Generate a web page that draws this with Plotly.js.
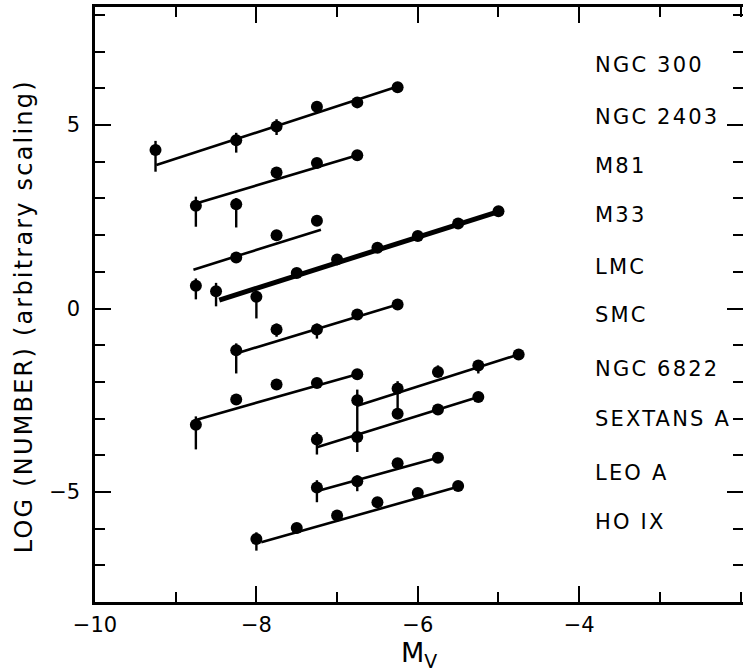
<!DOCTYPE html>
<html>
<head>
<meta charset="utf-8">
<script src="https://cdn.plot.ly/plotly-3.0.1.min.js"></script>
<style>
  html, body { margin: 0; padding: 0; background: #fff; }
  #chart { width: 743px; height: 672px; }
  .annotation-text { letter-spacing: 2.2px; }
</style>
</head>
<body>
<div id="chart"></div>
<script>
// ---- Data (M_V vs log number, arbitrary scaling) ----
const galaxies = ['NGC 300', 'NGC 2403', 'M81', 'M33', 'LMC', 'SMC', 'NGC 6822', 'SEXTANS A', 'LEO A', 'HO IX'];

const ngc300Mv   = [-9.25, -8.25, -7.75, -7.25, -6.75, -6.25];
const ngc300Log  = [4.32, 4.59, 4.96, 5.50, 5.62, 6.03];
const ngc300ErrHi = [0.25, 0.20, 0.20, 0, 0, 0];
const ngc300ErrLo = [0.59, 0.34, 0.23, 0, 0, 0];

const ngc2403Mv   = [-8.75, -8.25, -7.75, -7.25, -6.75];
const ngc2403Log  = [2.80, 2.84, 3.71, 3.97, 4.18];
const ngc2403ErrHi = [0.25, 0.17, 0, 0, 0];
const ngc2403ErrLo = [0.57, 0.63, 0, 0, 0];

const m81Mv   = [-8.75, -8.25, -7.75, -7.25];
const m81Log  = [0.62, 1.39, 2.00, 2.39];
const m81ErrHi = [0.20, 0, 0, 0];
const m81ErrLo = [0.37, 0, 0, 0];

const m33Mv   = [-8.5, -8.0, -7.5, -7.0, -6.5, -6.0, -5.5, -5.0];
const m33Log  = [0.47, 0.32, 0.97, 1.34, 1.66, 1.98, 2.32, 2.65];
const m33ErrHi = [0.23, 0.05, 0, 0, 0, 0, 0, 0];
const m33ErrLo = [0.41, 0.59, 0, 0, 0, 0, 0, 0];

const lmcMv   = [-8.25, -7.75, -7.25, -6.75, -6.25];
const lmcLog  = [-1.14, -0.57, -0.57, -0.16, 0.11];
const lmcErrHi = [0.19, 0.16, 0.16, 0, 0];
const lmcErrLo = [0.63, 0.20, 0.25, 0, 0];

const smcMv   = [-8.75, -8.25, -7.75, -7.25, -6.75];
const smcLog  = [-3.17, -2.48, -2.07, -2.03, -1.79];
const smcErrHi = [0.23, 0, 0, 0, 0];
const smcErrLo = [0.67, 0, 0, 0, 0];

const ngc6822Mv   = [-6.75, -6.25, -5.75, -5.25, -4.75];
const ngc6822Log  = [-2.50, -2.18, -1.73, -1.55, -1.25];
const ngc6822ErrHi = [0.29, 0.20, 0.18, 0.05, 0];
const ngc6822ErrLo = [1.00, 0.69, 0.05, 0.22, 0];

const sexAMv   = [-7.25, -6.75, -6.25, -5.75, -5.25];
const sexALog  = [-3.57, -3.50, -2.87, -2.75, -2.41];
const sexAErrHi = [0.20, 0, 0, 0, 0];
const sexAErrLo = [0.41, 0.41, 0.10, 0, 0];

const leoAMv   = [-7.25, -6.75, -6.25, -5.75];
const leoALog  = [-4.88, -4.71, -4.22, -4.07];
const leoAErrHi = [0.20, 0.16, 0, 0];
const leoAErrLo = [0.40, 0.27, 0, 0];

const hoIXMv   = [-8.0, -7.5, -7.0, -6.5, -6.0, -5.5];
const hoIXLog  = [-6.28, -5.98, -5.64, -5.28, -5.03, -4.84];
const hoIXErrHi = [0.18, 0, 0, 0, 0, 0];
const hoIXErrLo = [0.32, 0, 0, 0, 0, 0];

// fitted lines (end points), one per galaxy in order
const fitMvStart  = [-9.24, -8.75, -8.78, -8.46, -8.23, -8.74, -6.75, -7.25, -7.22, -7.94];
const fitLogStart = [3.91, 2.86, 1.06, 0.23, -1.21, -3.03, -2.65, -3.78, -4.96, -6.37];
const fitMvEnd    = [-6.25, -6.75, -7.20, -4.99, -6.25, -6.75, -4.75, -5.25, -5.75, -5.47];
const fitLogEnd   = [6.05, 4.18, 2.15, 2.65, 0.11, -1.79, -1.25, -2.41, -4.07, -4.84];

// label positions (y in data units) for the galaxy names at right
const labelLog = [6.64, 5.22, 3.88, 2.55, 1.13, -0.18, -1.66, -3.02, -4.47, -5.83];

const xTickVals = [-10, -8, -6, -4];
const yTickVals = [-5, 0, 5];
const yTitle = 'LOG (NUMBER) (arbitrary scaling)';

// ---- Build traces ----
const series = [
  [ngc300Mv, ngc300Log, ngc300ErrHi, ngc300ErrLo],
  [ngc2403Mv, ngc2403Log, ngc2403ErrHi, ngc2403ErrLo],
  [m81Mv, m81Log, m81ErrHi, m81ErrLo],
  [m33Mv, m33Log, m33ErrHi, m33ErrLo],
  [lmcMv, lmcLog, lmcErrHi, lmcErrLo],
  [smcMv, smcLog, smcErrHi, smcErrLo],
  [ngc6822Mv, ngc6822Log, ngc6822ErrHi, ngc6822ErrLo],
  [sexAMv, sexALog, sexAErrHi, sexAErrLo],
  [leoAMv, leoALog, leoAErrHi, leoAErrLo],
  [hoIXMv, hoIXLog, hoIXErrHi, hoIXErrLo]
];

const traces = [];
galaxies.forEach((name, i) => {
  traces.push({
    x: [fitMvStart[i], fitMvEnd[i]],
    y: [fitLogStart[i], fitLogEnd[i]],
    mode: 'lines',
    line: { color: '#000', width: name === 'M33' ? 5 : 2.6 },
    hoverinfo: 'skip',
    showlegend: false
  });
});
galaxies.forEach((name, i) => {
  const s = series[i];
  traces.push({
    x: s[0], y: s[1], name: name,
    mode: 'markers',
    marker: { color: '#000', size: 12 },
    error_y: { type: 'data', symmetric: false, array: s[2], arrayminus: s[3],
               color: '#000', thickness: 2.4, width: 0 },
    showlegend: false
  });
});

const annotations = galaxies.map((name, i) => ({
  text: name, x: -3.83, y: labelLog[i], xref: 'x', yref: 'y',
  xanchor: 'left', yanchor: 'middle', showarrow: false,
  font: { family: 'DejaVu Sans', size: 21, color: '#000' }
}));
// y-axis title, placed as a rotated annotation so it can sit where the original does
annotations.push({
  text: yTitle, textangle: -90, xref: 'paper', x: 0, xshift: -71,
  yref: 'y', y: -0.21, xanchor: 'center', yanchor: 'middle', showarrow: false,
  font: { family: 'DejaVu Sans', size: 24, color: '#000' }
});

const axisCommon = {
  showline: true, linecolor: '#000', linewidth: 2.6,
  mirror: 'allticks', ticks: 'inside', tickcolor: '#000', tickwidth: 2,
  ticklen: 16, showgrid: false, zeroline: false,
  tickfont: { family: 'DejaVu Sans', size: 21, color: '#000' },
  tickmode: 'array',
  minor: { tickmode: 'linear', tick0: 0, dtick: 1, ticks: 'inside', ticklen: 10,
           tickwidth: 2, tickcolor: '#000', showgrid: false }
};

const layout = {
  width: 743, height: 672,
  margin: { l: 95, r: 0, t: 7, b: 70 },
  paper_bgcolor: '#fff', plot_bgcolor: '#fff',
  showlegend: false,
  xaxis: Object.assign({}, axisCommon, {
    range: [-10, -1.97],
    tickvals: xTickVals,
    ticktext: xTickVals.map(v => '\u2212' + Math.abs(v)),
    ticklabelstandoff: 2,
    title: { text: 'M<sub>V</sub>', font: { family: 'DejaVu Sans', size: 27, color: '#000' }, standoff: 12 }
  }),
  yaxis: Object.assign({}, axisCommon, {
    range: [-8, 8.22],
    tickvals: yTickVals,
    ticktext: yTickVals.map(v => v < 0 ? '\u2212' + Math.abs(v) : String(v)),
    ticklabelstandoff: 8
  }),
  annotations: annotations,
  font: { family: 'DejaVu Sans', color: '#000' }
};

Plotly.newPlot('chart', traces, layout, { staticPlot: true, displayModeBar: false });
</script>
</body>
</html>
